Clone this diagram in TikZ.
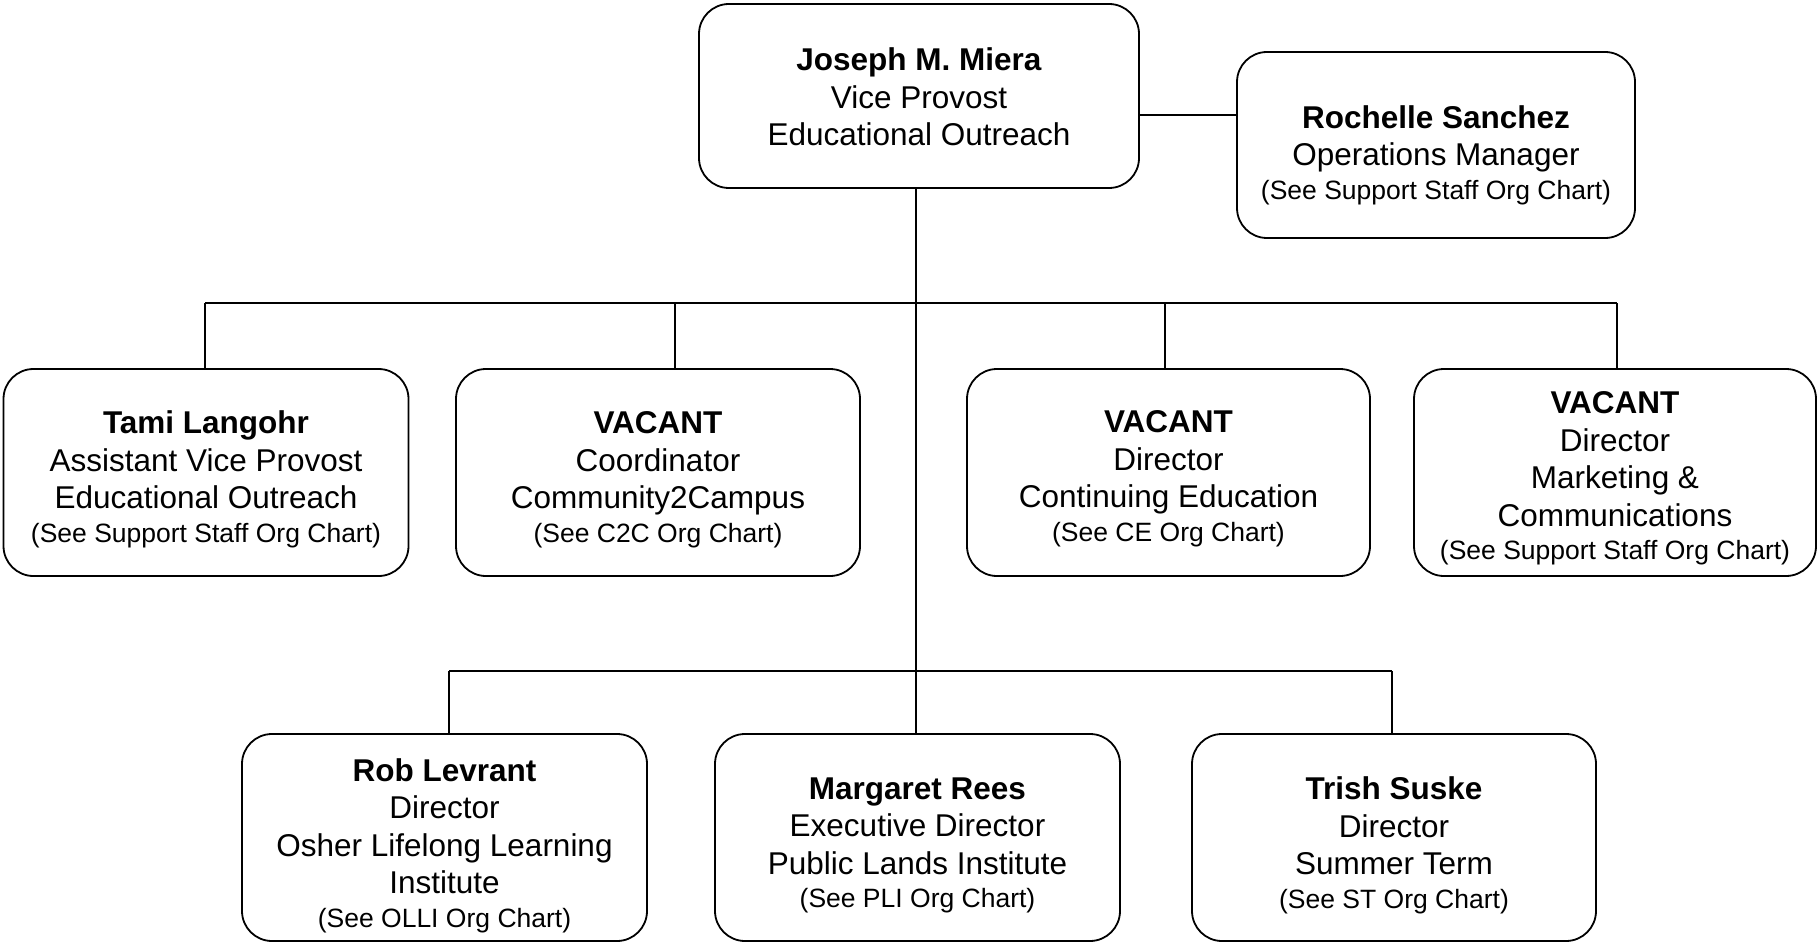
\documentclass[tikz,border=0pt]{standalone}
\usepackage{fontspec}
\setmainfont{Liberation Sans}
\newcommand{\sm}[1]{{\fontsize{26.5}{36}\selectfont #1}}
\begin{document}
\begin{tikzpicture}[x=1pt,y=-1pt,
  orgbox/.style={draw=black, line width=1.8pt, rounded corners=30pt, fill=white, inner sep=0pt},
  lbl/.style={align=center, inner sep=0pt, font=\fontsize{31.5}{37.5}\selectfont},
  wire/.style={draw=black, line width=1.8pt}]
\useasboundingbox (0,0) rectangle (1818,944);

% top
\node[orgbox, minimum width=440pt, minimum height=184pt,
  label={[lbl, yshift=-1pt]center:{\textbf{Joseph M. Miera}\\Vice Provost\\Educational Outreach}}] (vp) at (919,96) {};
\node[orgbox, minimum width=398pt, minimum height=186pt,
  label={[lbl, yshift=-10pt]center:{\textbf{Rochelle Sanchez}\\Operations Manager\\[-4pt]\sm{(See Support Staff Org Chart)}}}] (rs) at (1436,145) {};

% row 2
\node[orgbox, minimum width=405pt, minimum height=207pt,
  label={[lbl, yshift=-7pt]center:{\textbf{Tami Langohr}\\Assistant Vice Provost\\Educational Outreach\\[-4pt]\sm{(See Support Staff Org Chart)}}}] (tl) at (206,472.5) {};
\node[orgbox, minimum width=404pt, minimum height=207pt,
  label={[lbl, yshift=-7pt]center:{\textbf{VACANT}\\Coordinator\\Community2Campus\\[-4pt]\sm{(See C2C Org Chart)}}}] (c2c) at (658,472.5) {};
\node[orgbox, minimum width=403pt, minimum height=207pt,
  label={[lbl, yshift=-6pt]center:{\textbf{VACANT}\\Director\\Continuing Education\\[-4pt]\sm{(See CE Org Chart)}}}] (ce) at (1168.5,472.5) {};
\node[orgbox, minimum width=402pt, minimum height=207pt,
  label={[lbl, yshift=-6pt]center:{\textbf{VACANT}\\Director\\Marketing \&\\Communications\\[-4pt]\sm{(See Support Staff Org Chart)}}}] (mk) at (1615,472.5) {};

% row 3
\node[orgbox, minimum width=405pt, minimum height=207pt,
  label={[lbl, yshift=-8pt]center:{\textbf{Rob Levrant}\\Director\\Osher Lifelong Learning\\Institute\\[-4pt]\sm{(See OLLI Org Chart)}}}] (rl) at (444.5,837.5) {};
\node[orgbox, minimum width=405pt, minimum height=207pt,
  label={[lbl, yshift=-8pt]center:{\textbf{Margaret Rees}\\Executive Director\\Public Lands Institute\\[-4pt]\sm{(See PLI Org Chart)}}}] (mr) at (917.5,837.5) {};
\node[orgbox, minimum width=404pt, minimum height=207pt,
  label={[lbl, yshift=-8pt]center:{\textbf{Trish Suske}\\Director\\Summer Term\\[-4pt]\sm{(See ST Org Chart)}}}] (ts) at (1394,837.5) {};

% connectors
\coordinate (b1) at (916,303);
\coordinate (b2) at (916,671);
\draw[wire] (vp.south -| b1) -- (mr.north -| b1);
\draw[wire] (vp.east |- 0,115) -- (rs.west |- 0,115);
\draw[wire] (205,303) -- (1617,303);
\draw[wire] (205,303) -- (tl.north -| 205,0);
\draw[wire] (675,303) -- (c2c.north -| 675,0);
\draw[wire] (1165,303) -- (ce.north -| 1165,0);
\draw[wire] (1617,303) -- (mk.north -| 1617,0);
\draw[wire] (449,671) -- (1392,671);
\draw[wire] (449,671) -- (rl.north -| 449,0);
\draw[wire] (1392,671) -- (ts.north -| 1392,0);
\end{tikzpicture}
\end{document}
